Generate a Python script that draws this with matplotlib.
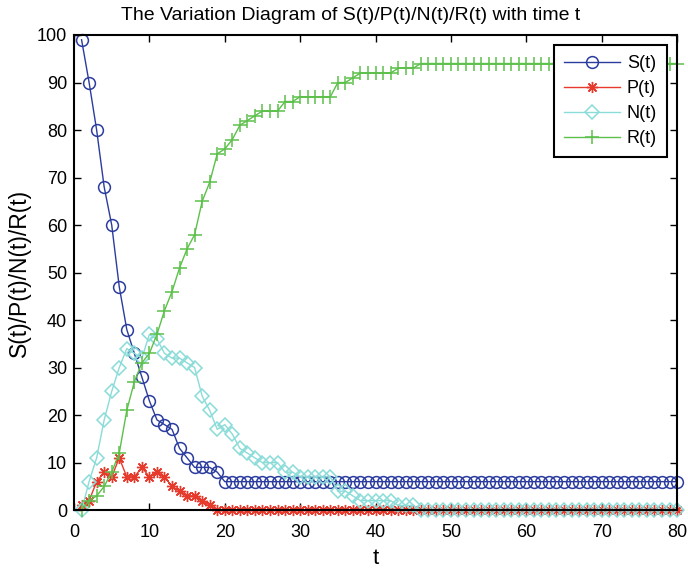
import numpy as np
import matplotlib
matplotlib.use("Agg")
import matplotlib.pyplot as plt

plt.rcParams['font.family'] = ['Liberation Sans', 'DejaVu Sans']

t = np.arange(1, 81)

S_vals = [99, 90, 80, 68, 60, 47, 38, 33, 28, 23,
          19, 18, 17, 13, 11, 9, 9, 9, 8] + [6] * 61
P_vals = [1, 2, 6, 8, 7, 11, 7, 7, 9, 7,
          8, 7, 5, 4, 3, 3, 2, 1] + [0] * 62
N_vals = [0, 6, 11, 19, 25, 30, 34, 33, 32, 37,
          36, 33, 32, 32, 31, 30, 24, 21, 17, 18,
          16, 13, 12, 11, 10, 10, 10, 8, 8, 7,
          7, 7, 7, 7, 4, 4, 3, 2, 2, 2,
          2, 2, 1, 1, 1] + [0] * 35
R_vals = [0, 2, 3, 5, 8, 12, 21, 27, 31, 33,
          37, 42, 46, 51, 55, 58, 65, 69, 75, 76,
          78, 81, 82, 83, 84, 84, 84, 86, 86, 87,
          87, 87, 87, 87, 90, 90, 91, 92, 92, 92,
          92, 92, 93, 93, 93] + [94] * 35

labels = ['S(t)', 'P(t)', 'N(t)', 'R(t)']
colors = ['#2b3c9e', '#e63a2c', '#8adcd8', '#5cc04a']

fig = plt.figure(figsize=(6.88, 5.70), dpi=100)
ax = fig.add_axes([0.1076, 0.105, 0.8765, 0.8336])

ms_kw = dict(linewidth=1.0, clip_on=False)
ax.plot(t, S_vals, color=colors[0], marker='o', markersize=8.5,
        markerfacecolor='none', markeredgewidth=1.1, label=labels[0], **ms_kw)
ax.plot(t, P_vals, color=colors[1], marker=(8, 2, 0), markersize=8,
        markeredgewidth=1.0, label=labels[1], **ms_kw)
ax.plot(t, N_vals, color=colors[2], marker='D', markersize=7,
        markerfacecolor='none', markeredgewidth=1.1, label=labels[2], **ms_kw)
ax.plot(t, R_vals, color=colors[3], marker='+', markersize=9.5,
        markeredgewidth=1.1, label=labels[3], **ms_kw)

ax.set_xlim(0, 80)
ax.set_ylim(0, 100)
ax.set_xticks(np.arange(0, 81, 10))
ax.set_yticks(np.arange(0, 101, 10))
ax.tick_params(direction='in', length=5, width=1, labelsize=13,
               top=True, right=True)
ax.tick_params(axis='x', pad=10)
ax.tick_params(axis='y', pad=5)
for sp in ax.spines.values():
    sp.set_linewidth(1.5)

ax.set_title('The Variation Diagram of S(t)/P(t)/N(t)/R(t) with time t',
             fontsize=14, pad=11, x=0.459)
ax.set_xlabel('t', fontsize=16, labelpad=5)
ax.set_ylabel('S(t)/P(t)/N(t)/R(t)', fontsize=16.5, labelpad=4)

leg = ax.legend(loc='upper right', fontsize=13, fancybox=False,
                framealpha=1, edgecolor='black', borderaxespad=0.55,
                handlelength=3.1, handletextpad=0.4, labelspacing=0.45,
                borderpad=0.55)
leg.get_frame().set_linewidth(1.5)

fig.savefig('out.png', dpi=100)
